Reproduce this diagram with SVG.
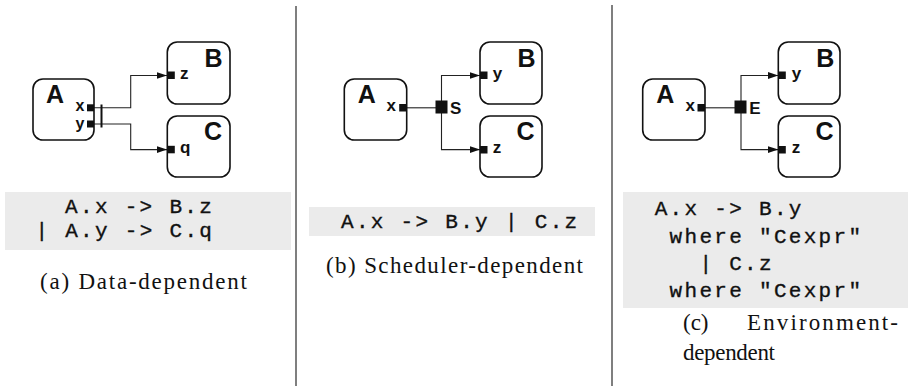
<svg xmlns="http://www.w3.org/2000/svg" width="908" height="386" viewBox="0 0 908 386">
<style>
.box{fill:#fff;stroke:#111;stroke-width:1.6}
.port{fill:#111}
.nl{font-family:"Liberation Sans",Arial,sans-serif;font-weight:bold;font-size:25px;fill:#111}
.pl{font-family:"Liberation Sans",Arial,sans-serif;font-weight:bold;font-size:17px;fill:#111}
.pls{font-family:"Liberation Sans",Arial,sans-serif;font-weight:bold;font-size:16px;fill:#111}
.jl{font-family:"Liberation Sans",Arial,sans-serif;font-weight:bold;font-size:17px;fill:#111}
.wire{fill:none;stroke:#222;stroke-width:1.1}
.bar{stroke:#111;stroke-width:2}
.code{font-family:"Liberation Mono","Courier New",monospace;font-size:21px;letter-spacing:2.3px;fill:#111;stroke:#111;stroke-width:0.35}
.cap{font-family:"Liberation Serif","Times New Roman",serif;font-size:23px;fill:#111}
.sep{stroke:#555;stroke-width:1.5}
.bg{fill:#ebebeb}
</style>
<defs>
<marker id="arr" markerWidth="11" markerHeight="8" refX="10.5" refY="4" orient="auto" markerUnits="userSpaceOnUse">
<path d="M0,0.5 L10.5,4 L0,7.5 Z" fill="#111"/>
</marker>
</defs>
<rect width="908" height="386" fill="#fff"/>
<g id="separators">
<line class="sep" x1="296" y1="6" x2="296" y2="386"/>
<line class="sep" x1="612" y1="5" x2="612" y2="386"/>
</g>
<g id="connectors">
<path class="wire" d="M94,107.8 H130.7 V75.5 H167" marker-end="url(#arr)"/>
<path class="wire" d="M94,124 H130.7 V149.6 H167" marker-end="url(#arr)"/>
<line class="bar" x1="101.5" y1="104.5" x2="101.5" y2="127.5"/>
<path class="wire" d="M406.7,107.8 H436"/>
<path class="wire" d="M441.5,107 V75.5 H480" marker-end="url(#arr)"/>
<path class="wire" d="M441.5,107 V149.6 H480" marker-end="url(#arr)"/>
<path class="wire" d="M705,107.8 H735"/>
<path class="wire" d="M741,107 V75.5 H778.3" marker-end="url(#arr)"/>
<path class="wire" d="M741,107 V149.6 H778.3" marker-end="url(#arr)"/>
</g>
<g id="a-A"><rect class="box" x="33" y="79" width="61" height="61" rx="10"/><text class="nl" x="46" y="103">A</text>
<rect class="port" x="87" y="104.3" width="7" height="7"/><text class="pls" x="75.5" y="110.5">x</text>
<rect class="port" x="87" y="120.5" width="7" height="7"/><text class="pls" x="75.5" y="129">y</text></g>
<g id="a-B"><rect class="box" x="167.3" y="42" width="62.7" height="62" rx="10"/><text class="nl" x="204.5" y="67">B</text>
<rect class="port" x="167.3" y="71.5" width="7.5" height="7.5"/><text class="pl" x="180" y="79">z</text></g>
<g id="a-C"><rect class="box" x="167.3" y="116" width="62.7" height="61" rx="10"/><text class="nl" x="204" y="140">C</text>
<rect class="port" x="167.3" y="145.8" width="7.5" height="7.5"/><text class="pl" x="180" y="153">q</text></g>
<g id="b-A"><rect class="box" x="344.3" y="79" width="62.4" height="61" rx="10"/><text class="nl" x="357.8" y="103">A</text>
<rect class="port" x="399.2" y="104" width="7.5" height="7.5"/><text class="pl" x="386.5" y="111">x</text></g>
<g id="b-S"><rect class="port" x="435.5" y="100.5" width="12" height="13"/><text class="jl" x="450" y="113.5">S</text></g>
<g id="b-B"><rect class="box" x="480" y="42" width="62" height="62" rx="10"/><text class="nl" x="517.5" y="67">B</text>
<rect class="port" x="480" y="71.5" width="7.5" height="7.5"/><text class="pl" x="492.7" y="78.5">y</text></g>
<g id="b-C"><rect class="box" x="480" y="116" width="62" height="61" rx="10"/><text class="nl" x="516.5" y="140">C</text>
<rect class="port" x="480" y="146" width="7.5" height="7.5"/><text class="pl" x="492.7" y="153">z</text></g>
<g id="c-A"><rect class="box" x="642.7" y="79" width="62.3" height="61" rx="10"/><text class="nl" x="656.2" y="103">A</text>
<rect class="port" x="697.5" y="104" width="7.5" height="7.5"/><text class="pl" x="685.5" y="111">x</text></g>
<g id="c-E"><rect class="port" x="734.5" y="100.5" width="12" height="13"/><text class="jl" x="749.3" y="113.5">E</text></g>
<g id="c-B"><rect class="box" x="778.3" y="42" width="61.7" height="62" rx="10"/><text class="nl" x="816.2" y="67">B</text>
<rect class="port" x="778.3" y="71.5" width="7.5" height="7.5"/><text class="pl" x="791.7" y="78.5">y</text></g>
<g id="c-C"><rect class="box" x="778.3" y="116" width="61.7" height="61" rx="10"/><text class="nl" x="815.5" y="140">C</text>
<rect class="port" x="778.3" y="146" width="7.5" height="7.5"/><text class="pl" x="791.7" y="153">z</text></g>
<g id="code-a"><rect class="bg" x="5" y="192" width="286" height="58"/>
<text class="code" x="65.1" y="213">A.x -&gt; B.z</text>
<text class="code" x="35.4" y="237">| A.y -&gt; C.q</text></g>
<g id="code-b"><rect class="bg" x="309" y="207" width="286" height="29"/>
<text class="code" x="341" y="228">A.x -&gt; B.y | C.z</text></g>
<g id="code-c"><rect class="bg" x="623" y="192" width="285" height="116"/>
<text class="code" x="654.7" y="215">A.x -&gt; B.y</text>
<text class="code" x="669.6" y="243">where "Cexpr"</text>
<text class="code" x="699.4" y="270">| C.z</text>
<text class="code" x="669.6" y="297">where "Cexpr"</text></g>
<g id="captions">
<text class="cap" x="40" y="289" textLength="207" lengthAdjust="spacing">(a) Data-dependent</text>
<text class="cap" x="326" y="273" textLength="257" lengthAdjust="spacing">(b) Scheduler-dependent</text>
<text class="cap" x="683" y="330">(c)</text>
<text class="cap" x="747" y="330" textLength="151" lengthAdjust="spacing">Environment-</text>
<text class="cap" x="683" y="360" textLength="92" lengthAdjust="spacing">dependent</text>
</g>
</svg>
